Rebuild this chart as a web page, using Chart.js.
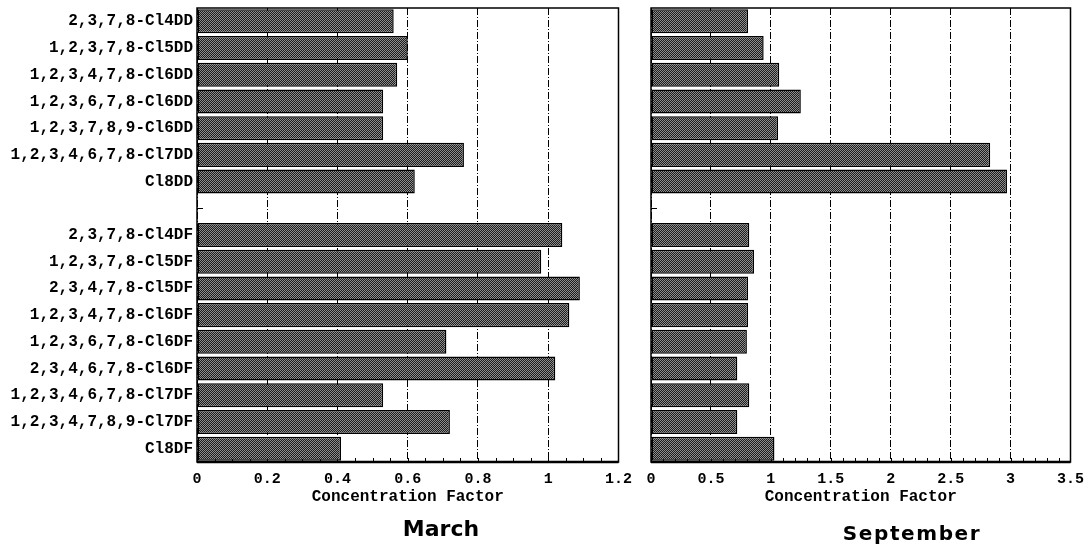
<!DOCTYPE html>
<html>
<head>
<meta charset="utf-8">
<script src="https://cdn.jsdelivr.net/npm/chart.js@4"></script>
<style>
  html, body { margin: 0; padding: 0; background: #fff; }
  body { width: 1092px; height: 550px; position: relative; overflow: hidden; }
  #wrapL { position: absolute; left: 0; top: 0; width: 640px; height: 550px; }
  #wrapR { position: absolute; left: 630px; top: 0; width: 462px; height: 550px; }
  .panelTitle { position: absolute; font-family: "DejaVu Sans", sans-serif; font-weight: bold; color: #000; white-space: nowrap; line-height: 1; }
  #tMarch { left: 441px; top: 518px; font-size: 22px; transform: translateX(-50%); }
  #tSept { left: 912px; top: 523px; font-size: 20px; letter-spacing: 1.6px; transform: translateX(-50%); }
</style>
</head>
<body>
<div id="wrapL"><canvas id="cL"></canvas></div>
<div id="wrapR"><canvas id="cR"></canvas></div>
<div class="panelTitle" id="tMarch">March</div>
<div class="panelTitle" id="tSept">September</div>
<script>
// ---- data ----
const dioxinLabels = ['2,3,7,8-Cl4DD','1,2,3,7,8-Cl5DD','1,2,3,4,7,8-Cl6DD','1,2,3,6,7,8-Cl6DD','1,2,3,7,8,9-Cl6DD','1,2,3,4,6,7,8-Cl7DD','Cl8DD'];
const furanLabels = ['2,3,7,8-Cl4DF','1,2,3,7,8-Cl5DF','2,3,4,7,8-Cl5DF','1,2,3,4,7,8-Cl6DF','1,2,3,6,7,8-Cl6DF','2,3,4,6,7,8-Cl6DF','1,2,3,4,6,7,8-Cl7DF','1,2,3,4,7,8,9-Cl7DF','Cl8DF'];
const marchDioxins = [0.56, 0.60, 0.57, 0.53, 0.53, 0.76, 0.62];
const marchFurans  = [1.04, 0.98, 1.09, 1.06, 0.71, 1.02, 0.53, 0.72, 0.41];
const septDioxins  = [0.81, 0.94, 1.07, 1.25, 1.06, 2.83, 2.97];
const septFurans   = [0.82, 0.86, 0.81, 0.81, 0.80, 0.72, 0.82, 0.72, 1.03];
const marchTicks = [0, 0.2, 0.4, 0.6, 0.8, 1, 1.2];
const septTicks  = [0, 0.5, 1, 1.5, 2, 2.5, 3, 3.5];
const xTitle = 'Concentration Factor';

const categories = [...dioxinLabels, '', ...furanLabels];
const marchData = [...marchDioxins, null, ...marchFurans];
const septData  = [...septDioxins, null, ...septFurans];

// ---- stipple pattern ----
function makePattern() {
  const c = document.createElement('canvas');
  c.width = 2; c.height = 2;
  const g = c.getContext('2d');
  g.fillStyle = '#1c1c1c'; g.fillRect(0, 0, 2, 2);
  g.fillStyle = '#8e8e8e'; g.fillRect(0, 0, 1, 1); g.fillRect(1, 1, 1, 1);
  return g.createPattern(c, 'repeat');
}
const pattern = makePattern();

const MONO = "'Liberation Mono', 'DejaVu Sans Mono', monospace";

const framePlugin = {
  id: 'frame',
  beforeDatasetsDraw(chart, args, opts) {
    const { ctx, chartArea: a } = chart;
    const x = chart.scales.x, y = chart.scales.y;
    ctx.save();
    ctx.strokeStyle = '#000';
    ctx.lineWidth = 1;
    for (let i = 0; i < categories.length; i++) {
      const py = Math.round(y.getPixelForValue(i)) + 0.5;
      ctx.beginPath(); ctx.moveTo(a.left, py); ctx.lineTo(a.left + 6, py); ctx.stroke();
    }
    const step = opts.minor;
    const max = x.max;
    for (let k = 0; k * step <= max + 1e-9; k++) {
      const px = Math.round(x.getPixelForValue(k * step)) + 0.5;
      ctx.beginPath(); ctx.moveTo(px, a.bottom); ctx.lineTo(px, a.bottom - 4); ctx.stroke();
    }
    ctx.restore();
  },
  afterDatasetsDraw(chart) {
    const { ctx, chartArea: a } = chart;
    ctx.save();
    ctx.strokeStyle = '#000';
    ctx.lineWidth = 1.5;
    ctx.strokeRect(a.left, a.top, a.right - a.left, a.bottom - a.top);
    ctx.lineWidth = 2.5;
    ctx.beginPath(); ctx.moveTo(a.left, a.bottom); ctx.lineTo(a.right, a.bottom); ctx.stroke();
    ctx.restore();
  }
};

function makeChart(id, data, ticks, max, minor, leftWidth, showLabels, padRight) {
  return new Chart(document.getElementById(id), {
    type: 'bar',
    data: {
      labels: categories,
      datasets: [{
        data: data,
        backgroundColor: pattern,
        borderColor: '#000',
        borderWidth: 1.5,
        borderSkipped: false,
        barPercentage: 0.9,
        categoryPercentage: 1.0
      }]
    },
    options: {
      indexAxis: 'y',
      responsive: true,
      maintainAspectRatio: false,
      animation: false,
      events: [],
      layout: { padding: { top: 8, right: padRight, left: 0, bottom: 0 } },
      plugins: { legend: { display: false }, tooltip: { enabled: false }, frame: { minor: minor } },
      scales: {
        x: {
          type: 'linear',
          min: 0, max: max,
          afterBuildTicks: s => { s.ticks = ticks.map(v => ({ value: v })); },
          afterFit: s => { s.height = 88; },
          border: { display: false, dash: [7, 2, 1, 2] },
          grid: {
            color: '#000',
            lineWidth: 1,
            drawTicks: false
          },
          ticks: {
            padding: 8,
            color: '#000',
            font: { family: MONO, size: 15, weight: 'bold' },
            maxRotation: 0,
            autoSkip: false,
            callback: v => String(+v)
          },
          title: {
            display: true,
            text: xTitle,
            color: '#000',
            font: { family: MONO, size: 16, weight: 'bold' },
            padding: { top: 0, bottom: 43 }
          }
        },
        y: {
          type: 'category',
          afterFit: s => { s.width = leftWidth; s.paddingTop = 0; s.paddingBottom = 0; },
          border: { display: false },
          grid: { display: false, drawTicks: false },
          ticks: {
            display: showLabels,
            padding: 4,
            color: '#000',
            autoSkip: false,
            font: { family: MONO, size: 16, weight: 'bold' }
          }
        }
      }
    },
    plugins: [framePlugin]
  });
}

const chL = makeChart('cL', marchData, marchTicks, 1.2, 0.05, 197, true, 20);
const chR = makeChart('cR', septData, septTicks, 3.5, 0.1, 21, false, 16);
</script>
</body>
</html>
